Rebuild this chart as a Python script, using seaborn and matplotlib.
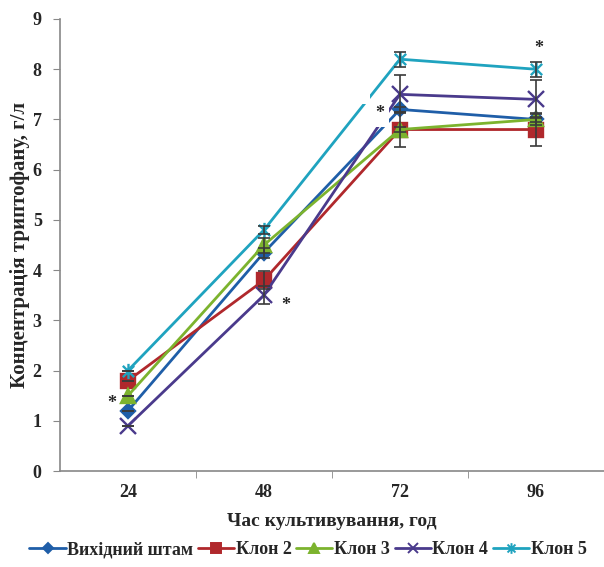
import numpy as np
import pandas as pd
import matplotlib
matplotlib.use("Agg")
import matplotlib.pyplot as plt
from matplotlib.path import Path
from matplotlib.lines import Line2D
from matplotlib.patches import Rectangle
import seaborn as sns

hours = ["24", "48", "72", "96"]
series_names = ["Вихідний штам", "Клон 2", "Клон 3", "Клон 4", "Клон 5"]
vals_base = [1.2, 4.35, 7.2, 7.0]
vals_k2 = [1.8, 3.8, 6.8, 6.8]
vals_k3 = [1.5, 4.5, 6.8, 7.0]
vals_k4 = [0.9, 3.5, 7.5, 7.4]
vals_k5 = [2.0, 4.8, 8.2, 8.0]
err_base = [0.0, 0.1, 0.05, 0.05]
err_k2 = [0.0, 0.18, 0.35, 0.33]
err_k3 = [0.0, 0.15, 0.05, 0.1]
err_k4 = [0.0, 0.18, 0.38, 0.38]
err_k5 = [0.0, 0.08, 0.15, 0.15]
yticks = [0, 1, 2, 3, 4, 5, 6, 7, 8, 9]

values = [vals_base, vals_k2, vals_k3, vals_k4, vals_k5]
errors = [err_base, err_k2, err_k3, err_k4, err_k5]
colors = ["#1f5ea8", "#b0282c", "#7cb32e", "#4a3a8c", "#1fa3bf"]

star = Path([(-1, -1), (1, 1), (-1, 1), (1, -1), (0, -1.35), (0, 1.35)],
            [Path.MOVETO, Path.LINETO, Path.MOVETO, Path.LINETO, Path.MOVETO, Path.LINETO])
markers = ["D", "s", "^", "x", star]
msizes = [7.5, 10, 10, 11, 11]

rows = []
for name, vs in zip(series_names, values):
    for h, v in zip(hours, vs):
        rows.append({"hour": h, "value": v, "series": name})
df = pd.DataFrame(rows)

sns.set_style("white")
plt.rcParams["font.family"] = ["Liberation Serif", "DejaVu Serif"]
plt.rcParams["font.weight"] = "bold"

fig = plt.figure(figsize=(6.04, 5.67), dpi=100)
ax = fig.add_axes([0.099, 0.169, 0.901, 0.7975])

sns.lineplot(data=df, x="hour", y="value", hue="series",
             hue_order=series_names,
             palette=dict(zip(series_names, colors)),
             linewidth=2.0, ax=ax, legend=False, sort=False, zorder=3)

lines = list(ax.lines)[:5]
for ln, c, m, ms in zip(lines, colors, markers, msizes):
    ln.set_marker(m)
    ln.set_markeredgecolor(c)
    ln.set_markerfacecolor(c)
    ln.set_markersize(ms)
    ln.set_markeredgewidth(1.7)

xpos = np.arange(len(hours))
for vs, es in zip(values, errors):
    ax.errorbar(xpos, vs, yerr=es, fmt="none", ecolor="#3a3a3a",
                elinewidth=1.2, capsize=4, capthick=1.2, zorder=4)

# white gap on the cyan line and asterisks
ax.add_patch(Rectangle((1.70, 7.30), 0.08, 0.27, facecolor="white", edgecolor="none", zorder=5))
ax.text(-0.12, 1.35, "*", ha="center", va="center", fontsize=13, fontweight="bold", zorder=6)
ax.text(1.16, 3.30, "*", ha="center", va="center", fontsize=13, fontweight="bold", zorder=6)
ax.text(1.85, 7.12, "*", ha="center", va="center", fontsize=13, fontweight="bold", zorder=6,
        bbox=dict(boxstyle="square,pad=0.3", fc="white", ec="none"))
ax.text(3.02, 8.42, "*", ha="center", va="center", fontsize=13, fontweight="bold", zorder=6)

ax.set_xlim(-0.5, 3.5)
ax.set_ylim(0, 9)
ax.set_yticks(yticks)
ax.set_yticklabels([str(t) for t in yticks], fontsize=13, fontweight="bold")
ax.set_xticks(xpos)
ax.set_xticklabels(hours, fontsize=13, fontweight="bold")
ax.set_xticks([0.5, 1.5, 2.5], minor=True)
ax.tick_params(axis="x", which="major", length=0, pad=9)
ax.tick_params(axis="x", which="minor", length=5, color="#888888", direction="out", bottom=True)
ax.tick_params(axis="y", length=5, color="#888888", direction="out", left=True, pad=8)

for s in ["top", "right"]:
    ax.spines[s].set_visible(False)
for s in ["left", "bottom"]:
    ax.spines[s].set_color("#888888")
    ax.spines[s].set_linewidth(1.2)

ax.set_xlabel("Час культивування, год", fontsize=14, fontweight="bold", labelpad=9)
ax.set_ylabel("Концентрація триптофану, г/л", fontsize=15, fontweight="bold", labelpad=2)

handles = [Line2D([], [], color=c, marker=m, markersize=ms * 0.7, markeredgecolor=c,
                  markerfacecolor=c, markeredgewidth=1.4, linewidth=2.0)
           for c, m, ms in zip(colors, markers, msizes)]
fig.legend(handles, series_names, loc="center", bbox_to_anchor=(0.51, 0.03), ncol=5,
           frameon=False, handlelength=2.0, handletextpad=0.1,
           columnspacing=0.25, prop={"weight": "bold", "size": 13})

fig.savefig("out.png", dpi=100)
